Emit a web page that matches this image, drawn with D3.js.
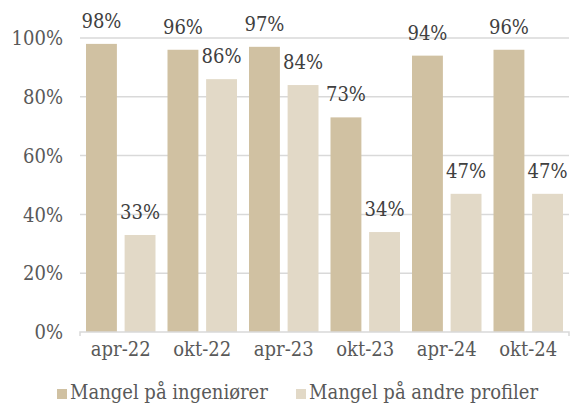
<!DOCTYPE html>
<html>
<head>
<meta charset="utf-8">
<script src="https://cdn.jsdelivr.net/npm/d3@7"></script>
<style>
  body { margin: 0; background: #fff; }
  text { font-family: "DejaVu Serif Condensed", "DejaVu Serif", serif; font-stretch: condensed; }
</style>
</head>
<body>
<svg width="572" height="403"></svg>
<script>
var categories = ["apr-22", "okt-22", "apr-23", "okt-23", "apr-24", "okt-24"];
var engineers = [98, 96, 97, 73, 94, 96];
var otherProfiles = [33, 86, 84, 34, 47, 47];
var seriesNames = ["Mangel på ingeniører", "Mangel på andre profiler"];
var yTicks = [0, 20, 40, 60, 80, 100];
var colors = ["#d0c1a2", "#e2d9c7"];

var svg = d3.select("svg");

var margin = {left: 80, right: 3, top: 38, bottom: 71},
    width = 572 - margin.left - margin.right,
    height = 403 - margin.top - margin.bottom;

var g = svg.append("g")
    .attr("transform", "translate(" + margin.left + "," + margin.top + ")");

var x = d3.scaleBand().domain(categories).range([0, width]);
var xs = d3.scaleBand().domain([0, 1]).range([6, x.bandwidth() - 6]).paddingInner(0.2);
var y = d3.scaleLinear().domain([0, 100]).range([height, 0]);

// gridlines
g.selectAll(".grid").data(yTicks.slice(1)).enter().append("line")
    .attr("x1", 0).attr("x2", width)
    .attr("y1", function(d) { return y(d); })
    .attr("y2", function(d) { return y(d); })
    .attr("stroke", "#d9d9d9").attr("stroke-width", 1.5);

// y labels
g.selectAll(".ylab").data(yTicks).enter().append("text")
    .attr("x", -17).attr("y", function(d) { return y(d); })
    .attr("dy", "0.36em")
    .attr("text-anchor", "end")
    .attr("fill", "#595959")
    .style("font-size", "20px")
    .text(function(d) { return d + "%"; });

var data = categories.map(function(c, i) {
  return {cat: c, vals: [engineers[i], otherProfiles[i]]};
});

var grp = g.selectAll(".grp").data(data).enter().append("g")
    .attr("transform", function(d) { return "translate(" + x(d.cat) + ",0)"; });

grp.selectAll("rect").data(function(d) { return d.vals; }).enter().append("rect")
    .attr("x", function(d, i) { return xs(i); })
    .attr("width", xs.bandwidth())
    .attr("y", function(d) { return y(d); })
    .attr("height", function(d) { return height - y(d); })
    .attr("fill", function(d, i) { return colors[i]; });

grp.selectAll(".val").data(function(d) { return d.vals; }).enter().append("text")
    .attr("x", function(d, i) { return xs(i) + xs.bandwidth() / 2; })
    .attr("y", function(d) { return y(d) - 16; })
    .attr("text-anchor", "middle")
    .attr("fill", "#404040")
    .style("font-size", "20px")
    .text(function(d) { return d + "%"; });

// x axis line
g.append("path")
    .attr("d", "M0," + (height + 4) + "V" + height + "H" + width + "V" + (height + 4))
    .attr("fill", "none").attr("stroke", "#d9d9d9").attr("stroke-width", 1.5);

g.selectAll(".xlab").data(categories).enter().append("text")
    .attr("x", function(d) { return x(d) + x.bandwidth() / 2; })
    .attr("y", height + 24)
    .attr("text-anchor", "middle")
    .attr("fill", "#595959")
    .style("font-size", "20px")
    .text(function(d) { return d; });

// legend
var legX = [57, 296];
var leg = svg.selectAll(".leg").data(seriesNames).enter().append("g")
    .attr("transform", function(d, i) { return "translate(" + legX[i] + ",389)"; });
leg.append("rect").attr("width", 10).attr("height", 10)
    .attr("fill", function(d, i) { return colors[i]; });
leg.append("text").attr("x", 13).attr("y", 10)
    .attr("fill", "#595959")
    .style("font-size", "20px")
    .text(function(d) { return d; });
</script>
</body>
</html>
